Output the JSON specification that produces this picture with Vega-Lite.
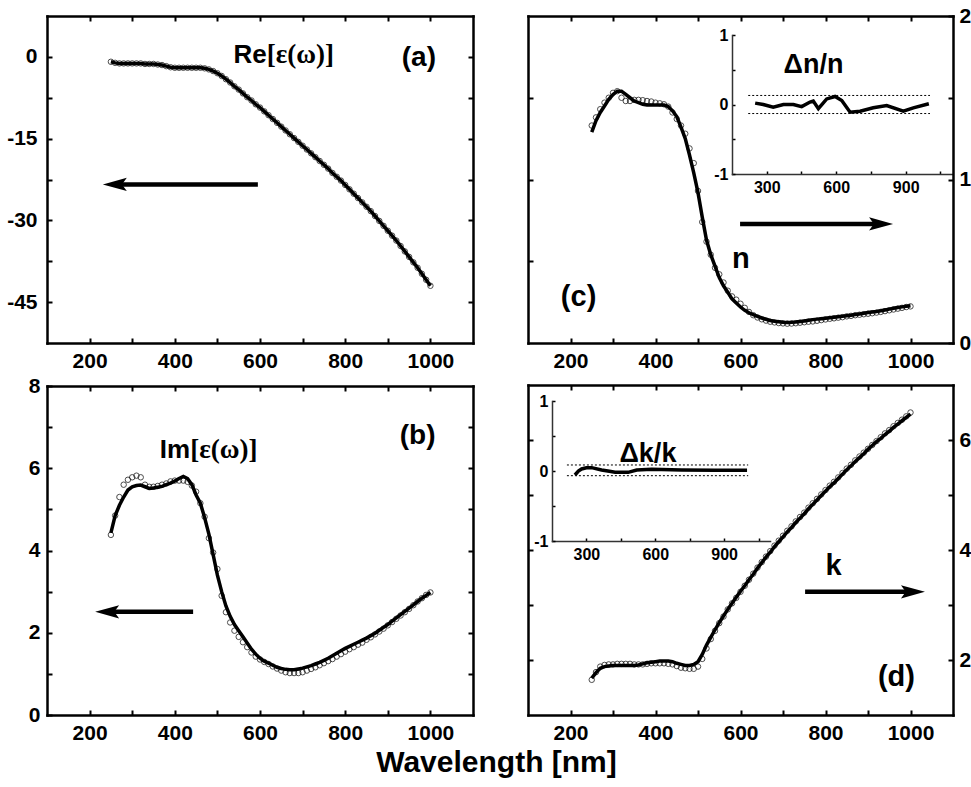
{
  "$schema": "https://vega.github.io/schema/vega-lite/v6.json",
  "width": 971,
  "height": 787,
  "autosize": "none",
  "padding": 0,
  "background": "white",
  "config": {
    "view": {"stroke": null},
    "font": "Liberation Sans",
    "axis": {
      "grid": false,
      "domainColor": "black",
      "domainWidth": 2.5,
      "domainCap": "square",
      "tickColor": "black",
      "tickWidth": 2,
      "tickSize": -5,
      "labelFont": "Liberation Sans",
      "labelFontWeight": "bold",
      "labelFontSize": 21,
      "labelColor": "black",
      "labelFlush": false,
      "labelOverlap": false,
      "labelPadding": 12
    }
  },
  "datasets": {
    "main": [
      {"p":"a","w":250,"m":-0.9,"f":-0.9},{"p":"a","w":260,"m":-1.1,"f":-1.1},{"p":"a","w":270,"m":-1.2,"f":-1.2},{"p":"a","w":280,"m":-1.2,"f":-1.2},{"p":"a","w":290,"m":-1.2,"f":-1.2},{"p":"a","w":300,"m":-1.2,"f":-1.2},{"p":"a","w":310,"m":-1.2,"f":-1.2},{"p":"a","w":320,"m":-1.2,"f":-1.2},{"p":"a","w":330,"m":-1.3,"f":-1.3},{"p":"a","w":340,"m":-1.3,"f":-1.3},{"p":"a","w":350,"m":-1.3,"f":-1.3},{"p":"a","w":360,"m":-1.4,"f":-1.4},{"p":"a","w":370,"m":-1.5,"f":-1.5},{"p":"a","w":380,"m":-1.7,"f":-1.7},{"p":"a","w":390,"m":-1.9,"f":-1.9},{"p":"a","w":400,"m":-2.0,"f":-2.0},{"p":"a","w":410,"m":-2.0,"f":-2.0},{"p":"a","w":420,"m":-2.0,"f":-2.0},{"p":"a","w":430,"m":-2.0,"f":-2.0},{"p":"a","w":440,"m":-2.0,"f":-2.0},{"p":"a","w":450,"m":-2.0,"f":-2.0},{"p":"a","w":460,"m":-2.0,"f":-2.0},{"p":"a","w":470,"m":-2.1,"f":-2.1},{"p":"a","w":480,"m":-2.3,"f":-2.3},{"p":"a","w":490,"m":-2.6,"f":-2.6},{"p":"a","w":500,"m":-3.0,"f":-3.0},{"p":"a","w":510,"m":-3.5,"f":-3.5},{"p":"a","w":520,"m":-4.1,"f":-4.1},{"p":"a","w":530,"m":-4.7,"f":-4.7},{"p":"a","w":540,"m":-5.4,"f":-5.4},{"p":"a","w":550,"m":-6.0,"f":-6.0},{"p":"a","w":560,"m":-6.7,"f":-6.7},{"p":"a","w":570,"m":-7.4,"f":-7.4},{"p":"a","w":580,"m":-8.0,"f":-8.0},{"p":"a","w":590,"m":-8.7,"f":-8.7},{"p":"a","w":600,"m":-9.3,"f":-9.3},{"p":"a","w":610,"m":-10.0,"f":-10.0},{"p":"a","w":620,"m":-10.7,"f":-10.7},{"p":"a","w":630,"m":-11.4,"f":-11.4},{"p":"a","w":640,"m":-12.1,"f":-12.1},{"p":"a","w":650,"m":-12.8,"f":-12.8},{"p":"a","w":660,"m":-13.5,"f":-13.5},{"p":"a","w":670,"m":-14.2,"f":-14.2},{"p":"a","w":680,"m":-14.9,"f":-14.9},{"p":"a","w":690,"m":-15.6,"f":-15.6},{"p":"a","w":700,"m":-16.3,"f":-16.3},{"p":"a","w":710,"m":-17.0,"f":-17.0},{"p":"a","w":720,"m":-17.7,"f":-17.7},{"p":"a","w":730,"m":-18.4,"f":-18.4},{"p":"a","w":740,"m":-19.1,"f":-19.1},{"p":"a","w":750,"m":-19.8,"f":-19.8},{"p":"a","w":760,"m":-20.5,"f":-20.5},{"p":"a","w":770,"m":-21.3,"f":-21.3},{"p":"a","w":780,"m":-22.0,"f":-22.0},{"p":"a","w":790,"m":-22.7,"f":-22.7},{"p":"a","w":800,"m":-23.5,"f":-23.5},{"p":"a","w":810,"m":-24.3,"f":-24.3},{"p":"a","w":820,"m":-25.1,"f":-25.1},{"p":"a","w":830,"m":-25.9,"f":-25.9},{"p":"a","w":840,"m":-26.7,"f":-26.7},{"p":"a","w":850,"m":-27.5,"f":-27.5},{"p":"a","w":860,"m":-28.3,"f":-28.3},{"p":"a","w":870,"m":-29.2,"f":-29.2},{"p":"a","w":880,"m":-30.1,"f":-30.1},{"p":"a","w":890,"m":-31.0,"f":-31.0},{"p":"a","w":900,"m":-31.9,"f":-31.9},{"p":"a","w":910,"m":-32.8,"f":-32.8},{"p":"a","w":920,"m":-33.7,"f":-33.7},{"p":"a","w":930,"m":-34.7,"f":-34.7},{"p":"a","w":940,"m":-35.7,"f":-35.7},{"p":"a","w":950,"m":-36.7,"f":-36.7},{"p":"a","w":960,"m":-37.7,"f":-37.7},{"p":"a","w":970,"m":-38.7,"f":-38.7},{"p":"a","w":980,"m":-39.8,"f":-39.8},{"p":"a","w":990,"m":-40.9,"f":-40.9},{"p":"a","w":1000,"m":-42.0,"f":-42.0},

      {"p":"b","w":250,"m":4.38,"f":4.43},{"p":"b","w":260,"m":4.85,"f":4.85},{"p":"b","w":270,"m":5.3,"f":5.1},{"p":"b","w":280,"m":5.6,"f":5.3},{"p":"b","w":290,"m":5.72,"f":5.47},{"p":"b","w":300,"m":5.78,"f":5.55},{"p":"b","w":310,"m":5.82,"f":5.58},{"p":"b","w":320,"m":5.78,"f":5.59},{"p":"b","w":330,"m":5.6,"f":5.55},{"p":"b","w":340,"m":5.55,"f":5.51},{"p":"b","w":350,"m":5.55,"f":5.52},{"p":"b","w":360,"m":5.57,"f":5.54},{"p":"b","w":370,"m":5.6,"f":5.56},{"p":"b","w":380,"m":5.63,"f":5.6},{"p":"b","w":390,"m":5.68,"f":5.64},{"p":"b","w":400,"m":5.7,"f":5.69},{"p":"b","w":410,"m":5.7,"f":5.75},{"p":"b","w":420,"m":5.7,"f":5.8},{"p":"b","w":430,"m":5.67,"f":5.75},{"p":"b","w":440,"m":5.58,"f":5.6},{"p":"b","w":450,"m":5.43,"f":5.35},{"p":"b","w":460,"m":5.15,"f":5.15},{"p":"b","w":470,"m":4.82,"f":4.8},{"p":"b","w":480,"m":4.3,"f":4.4},{"p":"b","w":490,"m":3.95,"f":3.9},{"p":"b","w":500,"m":3.55,"f":3.4},{"p":"b","w":510,"m":2.9,"f":3.0},{"p":"b","w":520,"m":2.5,"f":2.65},{"p":"b","w":530,"m":2.25,"f":2.4},{"p":"b","w":540,"m":2.05,"f":2.2},{"p":"b","w":550,"m":1.9,"f":2.05},{"p":"b","w":560,"m":1.77,"f":1.9},{"p":"b","w":570,"m":1.65,"f":1.75},{"p":"b","w":580,"m":1.52,"f":1.6},{"p":"b","w":590,"m":1.42,"f":1.48},{"p":"b","w":600,"m":1.35,"f":1.38},{"p":"b","w":610,"m":1.29,"f":1.31},{"p":"b","w":620,"m":1.24,"f":1.26},{"p":"b","w":630,"m":1.18,"f":1.21},{"p":"b","w":640,"m":1.13,"f":1.16},{"p":"b","w":650,"m":1.08,"f":1.13},{"p":"b","w":660,"m":1.04,"f":1.11},{"p":"b","w":670,"m":1.02,"f":1.1},{"p":"b","w":680,"m":1.02,"f":1.1},{"p":"b","w":690,"m":1.02,"f":1.12},{"p":"b","w":700,"m":1.04,"f":1.14},{"p":"b","w":710,"m":1.08,"f":1.17},{"p":"b","w":720,"m":1.12,"f":1.2},{"p":"b","w":730,"m":1.16,"f":1.24},{"p":"b","w":740,"m":1.21,"f":1.28},{"p":"b","w":750,"m":1.26,"f":1.33},{"p":"b","w":760,"m":1.31,"f":1.38},{"p":"b","w":770,"m":1.36,"f":1.44},{"p":"b","w":780,"m":1.42,"f":1.5},{"p":"b","w":790,"m":1.48,"f":1.56},{"p":"b","w":800,"m":1.54,"f":1.62},{"p":"b","w":810,"m":1.6,"f":1.67},{"p":"b","w":820,"m":1.65,"f":1.72},{"p":"b","w":830,"m":1.71,"f":1.77},{"p":"b","w":840,"m":1.76,"f":1.82},{"p":"b","w":850,"m":1.83,"f":1.87},{"p":"b","w":860,"m":1.89,"f":1.93},{"p":"b","w":870,"m":1.96,"f":1.99},{"p":"b","w":880,"m":2.03,"f":2.06},{"p":"b","w":890,"m":2.1,"f":2.13},{"p":"b","w":900,"m":2.18,"f":2.2},{"p":"b","w":910,"m":2.26,"f":2.28},{"p":"b","w":920,"m":2.34,"f":2.36},{"p":"b","w":930,"m":2.42,"f":2.44},{"p":"b","w":940,"m":2.5,"f":2.52},{"p":"b","w":950,"m":2.58,"f":2.6},{"p":"b","w":960,"m":2.67,"f":2.68},{"p":"b","w":970,"m":2.76,"f":2.76},{"p":"b","w":980,"m":2.84,"f":2.84},{"p":"b","w":990,"m":2.92,"f":2.91},{"p":"b","w":1000,"m":2.98,"f":2.98},

      {"p":"c","w":250,"m":1.33,"f":1.29},{"p":"c","w":260,"m":1.38,"f":1.36},{"p":"c","w":270,"m":1.43,"f":1.41},{"p":"c","w":280,"m":1.47,"f":1.45},{"p":"c","w":290,"m":1.5,"f":1.49},{"p":"c","w":300,"m":1.53,"f":1.52},{"p":"c","w":310,"m":1.54,"f":1.54},{"p":"c","w":320,"m":1.5,"f":1.54},{"p":"c","w":330,"m":1.48,"f":1.52},{"p":"c","w":340,"m":1.48,"f":1.5},{"p":"c","w":350,"m":1.487,"f":1.48},{"p":"c","w":360,"m":1.487,"f":1.47},{"p":"c","w":370,"m":1.485,"f":1.46},{"p":"c","w":380,"m":1.48,"f":1.456},{"p":"c","w":390,"m":1.477,"f":1.456},{"p":"c","w":400,"m":1.47,"f":1.456},{"p":"c","w":410,"m":1.466,"f":1.456},{"p":"c","w":420,"m":1.46,"f":1.455},{"p":"c","w":430,"m":1.446,"f":1.446},{"p":"c","w":440,"m":1.41,"f":1.42},{"p":"c","w":450,"m":1.37,"f":1.385},{"p":"c","w":460,"m":1.33,"f":1.32},{"p":"c","w":470,"m":1.28,"f":1.25},{"p":"c","w":480,"m":1.19,"f":1.15},{"p":"c","w":490,"m":1.1,"f":1.04},{"p":"c","w":500,"m":0.93,"f":0.92},{"p":"c","w":510,"m":0.74,"f":0.77},{"p":"c","w":520,"m":0.62,"f":0.63},{"p":"c","w":530,"m":0.54,"f":0.54},{"p":"c","w":540,"m":0.46,"f":0.47},{"p":"c","w":550,"m":0.42,"f":0.4},{"p":"c","w":560,"m":0.37,"f":0.35},{"p":"c","w":570,"m":0.32,"f":0.31},{"p":"c","w":580,"m":0.285,"f":0.27},{"p":"c","w":590,"m":0.265,"f":0.245},{"p":"c","w":600,"m":0.24,"f":0.22},{"p":"c","w":610,"m":0.215,"f":0.2},{"p":"c","w":620,"m":0.19,"f":0.185},{"p":"c","w":630,"m":0.17,"f":0.173},{"p":"c","w":640,"m":0.156,"f":0.163},{"p":"c","w":650,"m":0.145,"f":0.153},{"p":"c","w":660,"m":0.137,"f":0.145},{"p":"c","w":670,"m":0.13,"f":0.138},{"p":"c","w":680,"m":0.126,"f":0.133},{"p":"c","w":690,"m":0.122,"f":0.13},{"p":"c","w":700,"m":0.12,"f":0.127},{"p":"c","w":710,"m":0.118,"f":0.126},{"p":"c","w":720,"m":0.119,"f":0.127},{"p":"c","w":730,"m":0.121,"f":0.129},{"p":"c","w":740,"m":0.124,"f":0.132},{"p":"c","w":750,"m":0.127,"f":0.135},{"p":"c","w":760,"m":0.13,"f":0.139},{"p":"c","w":770,"m":0.132,"f":0.143},{"p":"c","w":780,"m":0.136,"f":0.146},{"p":"c","w":790,"m":0.14,"f":0.149},{"p":"c","w":800,"m":0.144,"f":0.152},{"p":"c","w":810,"m":0.148,"f":0.155},{"p":"c","w":820,"m":0.151,"f":0.158},{"p":"c","w":830,"m":0.155,"f":0.161},{"p":"c","w":840,"m":0.158,"f":0.164},{"p":"c","w":850,"m":0.163,"f":0.167},{"p":"c","w":860,"m":0.166,"f":0.17},{"p":"c","w":870,"m":0.17,"f":0.174},{"p":"c","w":880,"m":0.173,"f":0.178},{"p":"c","w":890,"m":0.176,"f":0.182},{"p":"c","w":900,"m":0.179,"f":0.186},{"p":"c","w":910,"m":0.182,"f":0.19},{"p":"c","w":920,"m":0.186,"f":0.193},{"p":"c","w":930,"m":0.19,"f":0.197},{"p":"c","w":940,"m":0.195,"f":0.202},{"p":"c","w":950,"m":0.2,"f":0.207},{"p":"c","w":960,"m":0.205,"f":0.212},{"p":"c","w":970,"m":0.21,"f":0.217},{"p":"c","w":980,"m":0.215,"f":0.221},{"p":"c","w":990,"m":0.22,"f":0.225},{"p":"c","w":1000,"m":0.224,"f":0.228},

      {"p":"d","w":250,"m":1.64,"f":1.67},{"p":"d","w":260,"m":1.78,"f":1.77},{"p":"d","w":270,"m":1.88,"f":1.85},{"p":"d","w":280,"m":1.91,"f":1.88},{"p":"d","w":290,"m":1.92,"f":1.89},{"p":"d","w":300,"m":1.92,"f":1.9},{"p":"d","w":310,"m":1.93,"f":1.9},{"p":"d","w":320,"m":1.93,"f":1.9},{"p":"d","w":330,"m":1.93,"f":1.9},{"p":"d","w":340,"m":1.93,"f":1.9},{"p":"d","w":350,"m":1.92,"f":1.9},{"p":"d","w":360,"m":1.92,"f":1.91},{"p":"d","w":370,"m":1.92,"f":1.93},{"p":"d","w":380,"m":1.93,"f":1.95},{"p":"d","w":390,"m":1.94,"f":1.96},{"p":"d","w":400,"m":1.94,"f":1.97},{"p":"d","w":410,"m":1.94,"f":1.98},{"p":"d","w":420,"m":1.94,"f":1.98},{"p":"d","w":430,"m":1.93,"f":1.98},{"p":"d","w":440,"m":1.92,"f":1.97},{"p":"d","w":450,"m":1.89,"f":1.94},{"p":"d","w":460,"m":1.86,"f":1.92},{"p":"d","w":470,"m":1.85,"f":1.9},{"p":"d","w":480,"m":1.84,"f":1.9},{"p":"d","w":490,"m":1.84,"f":1.92},{"p":"d","w":500,"m":1.88,"f":1.97},{"p":"d","w":510,"m":2.02,"f":2.1},{"p":"d","w":520,"m":2.21,"f":2.27},{"p":"d","w":530,"m":2.38,"f":2.41},{"p":"d","w":540,"m":2.53,"f":2.55},{"p":"d","w":550,"m":2.67,"f":2.68},{"p":"d","w":560,"m":2.79,"f":2.8},{"p":"d","w":570,"m":2.92,"f":2.92},{"p":"d","w":580,"m":3.03,"f":3.03},{"p":"d","w":590,"m":3.13,"f":3.14},{"p":"d","w":600,"m":3.24,"f":3.25},{"p":"d","w":610,"m":3.35,"f":3.35},{"p":"d","w":620,"m":3.46,"f":3.46},{"p":"d","w":630,"m":3.57,"f":3.56},{"p":"d","w":640,"m":3.68,"f":3.67},{"p":"d","w":650,"m":3.78,"f":3.77},{"p":"d","w":660,"m":3.88,"f":3.87},{"p":"d","w":670,"m":3.98,"f":3.96},{"p":"d","w":680,"m":4.08,"f":4.06},{"p":"d","w":690,"m":4.17,"f":4.15},{"p":"d","w":700,"m":4.26,"f":4.24},{"p":"d","w":710,"m":4.35,"f":4.33},{"p":"d","w":720,"m":4.43,"f":4.41},{"p":"d","w":730,"m":4.52,"f":4.5},{"p":"d","w":740,"m":4.6,"f":4.58},{"p":"d","w":750,"m":4.68,"f":4.66},{"p":"d","w":760,"m":4.77,"f":4.75},{"p":"d","w":770,"m":4.85,"f":4.83},{"p":"d","w":780,"m":4.93,"f":4.91},{"p":"d","w":790,"m":5.01,"f":4.99},{"p":"d","w":800,"m":5.09,"f":5.07},{"p":"d","w":810,"m":5.17,"f":5.15},{"p":"d","w":820,"m":5.24,"f":5.22},{"p":"d","w":830,"m":5.32,"f":5.3},{"p":"d","w":840,"m":5.4,"f":5.38},{"p":"d","w":850,"m":5.48,"f":5.46},{"p":"d","w":860,"m":5.55,"f":5.53},{"p":"d","w":870,"m":5.63,"f":5.61},{"p":"d","w":880,"m":5.7,"f":5.68},{"p":"d","w":890,"m":5.77,"f":5.75},{"p":"d","w":900,"m":5.84,"f":5.83},{"p":"d","w":910,"m":5.91,"f":5.9},{"p":"d","w":920,"m":5.98,"f":5.97},{"p":"d","w":930,"m":6.05,"f":6.03},{"p":"d","w":940,"m":6.12,"f":6.1},{"p":"d","w":950,"m":6.18,"f":6.16},{"p":"d","w":960,"m":6.25,"f":6.23},{"p":"d","w":970,"m":6.31,"f":6.29},{"p":"d","w":980,"m":6.37,"f":6.35},{"p":"d","w":990,"m":6.43,"f":6.41},{"p":"d","w":1000,"m":6.5,"f":6.47}
    ],
    "dn": [
      {"w":250,"v":0.02},{"w":285,"v":0.0},{"w":328,"v":-0.04},{"w":372,"v":0.0},{"w":415,"v":0.0},{"w":451,"v":-0.03},{"w":487,"v":0.035},{"w":501,"v":0.05},{"w":523,"v":-0.06},{"w":559,"v":0.08},{"w":595,"v":0.115},{"w":624,"v":0.058},{"w":660,"v":-0.11},{"w":703,"v":-0.096},{"w":760,"v":-0.048},{"w":818,"v":-0.014},{"w":890,"v":-0.096},{"w":933,"v":-0.048},{"w":1000,"v":0.01}
    ],
    "dk": [
      {"w":250,"v":-0.057},{"w":265,"v":0.0},{"w":279,"v":0.029},{"w":300,"v":0.045},{"w":323,"v":0.048},{"w":366,"v":0.014},{"w":400,"v":-0.005},{"w":425,"v":-0.019},{"w":482,"v":-0.019},{"w":519,"v":0.014},{"w":584,"v":0.024},{"w":715,"v":0.014},{"w":860,"v":0.01},{"w":1000,"v":0.01}
    ],
    "lim": [
      {"p":"dn","x1":220,"x2":1005,"y":0.13},{"p":"dn","x1":220,"x2":1005,"y":-0.13},
      {"p":"dk","x1":215,"x2":1005,"y":0.086},{"p":"dk","x1":215,"x2":1005,"y":-0.067}
    ],
    "arrows": [
      {"p":"a","tail":595,"shaft":271,"tip":231,"y":-23.4},
      {"p":"b","tail":443,"shaft":253,"tip":213,"y":2.51},
      {"p":"c","tail":599,"shaft":919,"tip":959,"y":0.728},
      {"p":"d","tail":752,"shaft":994,"tip":1034,"y":3.24}
    ],
    "ann": [
      {"p":"a","k":"r","t":"Re","x":616,"y":-1.1},
      {"p":"a","k":"e","t":"[ε(ω)]","x":616,"y":-1.1},
      {"p":"a","k":"c","t":"(a)","x":973,"y":-1.65},
      {"p":"b","k":"r","t":"Im","x":436,"y":6.25},
      {"p":"b","k":"e","t":"[ε(ω)]","x":436,"y":6.25},
      {"p":"b","k":"c","t":"(b)","x":970,"y":6.59},
      {"p":"c","k":"c","t":"(c)","x":219,"y":0.226},
      {"p":"c","k":"c","t":"n","x":601,"y":0.459},
      {"p":"d","k":"c","t":"(d)","x":967,"y":1.527},
      {"p":"d","k":"c","t":"k","x":819,"y":3.545},
      {"p":"dn","k":"c","t":"Δn/n","x":502,"y":0.46},
      {"p":"dk","k":"c","t":"Δk/k","x":568,"y":0.129}
    ]
  },
  "layer": [
    {
      "resolve": {"scale": {"x": "shared", "y": "shared"}, "axis": {"x": "independent", "y": "independent"}},
      "layer": [
        {
          "data": {"name": "main"},
          "transform": [{"filter": "datum.p == 'a'"}],
          "mark": {"type": "point", "shape": "circle", "filled": false, "size": 30, "color": "black", "strokeWidth": 1},
          "encoding": {
            "x": {"field": "w", "type": "quantitative", "scale": {"domain": [100, 1100], "range": [47, 473], "nice": false, "zero": false},
                  "axis": {"orient": "bottom", "offset": -444, "title": null, "values": [200,300,400,500,600,700,800,900,1000], "labelExpr": "datum.value % 200 == 0 ? '' + datum.value : ''", "labelPadding": 12}},
            "y": {"field": "m", "type": "quantitative", "scale": {"domain": [-52.5, 7.5], "range": [343, 16], "nice": false, "zero": false},
                  "axis": {"orient": "left", "offset": -47, "title": null, "values": [0,-7.5,-15,-22.5,-30,-37.5,-45], "labelExpr": "datum.value % 15 == 0 ? '' + datum.value : ''", "labelPadding": 15}}
          }
        },
        {
          "data": {"name": "main"},
          "transform": [{"filter": "datum.p == 'a'"}],
          "mark": {"type": "line", "color": "black", "strokeWidth": 3.5},
          "encoding": {
            "x": {"field": "w", "type": "quantitative", "scale": {"domain": [100, 1100], "range": [47, 473], "nice": false, "zero": false},
                  "axis": {"orient": "top", "offset": -16, "title": null, "labels": false, "values": [200,300,400,500,600,700,800,900,1000]}},
            "y": {"field": "f", "type": "quantitative", "scale": {"domain": [-52.5, 7.5], "range": [343, 16], "nice": false, "zero": false},
                  "axis": {"orient": "right", "offset": -498, "title": null, "labels": false, "values": [0,-7.5,-15,-22.5,-30,-37.5,-45]}}
          }
        },
        {
          "data": {"name": "arrows"},
          "transform": [{"filter": "datum.p == 'a'"}],
          "mark": {"type": "rule", "color": "black", "strokeWidth": 4.5},
          "encoding": {
            "x": {"field": "tail", "type": "quantitative", "axis": null},
            "x2": {"field": "shaft"},
            "y": {"field": "y", "type": "quantitative", "axis": null}
          }
        },
        {
          "data": {"name": "arrows"},
          "transform": [{"filter": "datum.p == 'a'"}],
          "mark": {"type": "point", "shape": "M0,0L2,-0.55L1.6,0L2,0.55Z", "filled": true, "size": 576, "color": "black", "opacity": 1},
          "encoding": {
            "x": {"field": "tip", "type": "quantitative", "axis": null},
            "y": {"field": "y", "type": "quantitative", "axis": null}
          }
        },
        {
          "data": {"name": "ann"},
          "transform": [{"filter": "datum.p == 'a' && datum.k == 'r'"}],
          "mark": {"type": "text", "align": "right", "baseline": "alphabetic", "fontSize": 26, "fontWeight": "bold", "font": "Liberation Sans", "color": "black"},
          "encoding": {"x": {"field": "x", "type": "quantitative", "axis": null}, "y": {"field": "y", "type": "quantitative", "axis": null}, "text": {"field": "t"}}
        },
        {
          "data": {"name": "ann"},
          "transform": [{"filter": "datum.p == 'a' && datum.k == 'e'"}],
          "mark": {"type": "text", "align": "left", "baseline": "alphabetic", "fontSize": 27, "fontWeight": "bold", "font": "Liberation Serif", "color": "black"},
          "encoding": {"x": {"field": "x", "type": "quantitative", "axis": null}, "y": {"field": "y", "type": "quantitative", "axis": null}, "text": {"field": "t"}}
        },
        {
          "data": {"name": "ann"},
          "transform": [{"filter": "datum.p == 'a' && datum.k == 'c'"}],
          "mark": {"type": "text", "align": "center", "baseline": "alphabetic", "fontSize": 28, "fontWeight": "bold", "font": "Liberation Sans", "color": "black"},
          "encoding": {"x": {"field": "x", "type": "quantitative", "axis": null}, "y": {"field": "y", "type": "quantitative", "axis": null}, "text": {"field": "t"}}
        }
      ]
    },
    {
      "resolve": {"scale": {"x": "shared", "y": "shared"}, "axis": {"x": "independent", "y": "independent"}},
      "layer": [
        {
          "data": {"name": "main"},
          "transform": [{"filter": "datum.p == 'b'"}],
          "mark": {"type": "point", "shape": "circle", "filled": false, "size": 30, "color": "black", "strokeWidth": 1},
          "encoding": {
            "x": {"field": "w", "type": "quantitative", "scale": {"domain": [100, 1100], "range": [47, 473], "nice": false, "zero": false},
                  "axis": {"orient": "bottom", "offset": -72, "values": [200,300,400,500,600,700,800,900,1000], "labelExpr": "datum.value % 200 == 0 ? '' + datum.value : ''", "labelPadding": 12,
                           "title": "Wavelength [nm]", "titleX": 496, "titleY": 56, "titleAlign": "center", "titleBaseline": "alphabetic", "titleAngle": 0, "titleFont": "Liberation Sans", "titleFontSize": 30, "titleFontWeight": "bold", "titleColor": "black"}},
            "y": {"field": "m", "type": "quantitative", "scale": {"domain": [0, 8], "range": [715, 386], "nice": false, "zero": false},
                  "axis": {"orient": "left", "offset": -47, "title": null, "values": [0,1,2,3,4,5,6,7,8], "labelExpr": "datum.value % 2 == 0 ? '' + datum.value : ''", "labelPadding": 12}}
          }
        },
        {
          "data": {"name": "main"},
          "transform": [{"filter": "datum.p == 'b'"}],
          "mark": {"type": "line", "color": "black", "strokeWidth": 3.5},
          "encoding": {
            "x": {"field": "w", "type": "quantitative", "scale": {"domain": [100, 1100], "range": [47, 473], "nice": false, "zero": false},
                  "axis": {"orient": "top", "offset": -386, "title": null, "labels": false, "values": [200,300,400,500,600,700,800,900,1000]}},
            "y": {"field": "f", "type": "quantitative", "scale": {"domain": [0, 8], "range": [715, 386], "nice": false, "zero": false},
                  "axis": {"orient": "right", "offset": -498, "title": null, "labels": false, "values": [1,2,3,4,5,6,7]}}
          }
        },
        {
          "data": {"name": "arrows"},
          "transform": [{"filter": "datum.p == 'b'"}],
          "mark": {"type": "rule", "color": "black", "strokeWidth": 4.5},
          "encoding": {
            "x": {"field": "tail", "type": "quantitative", "axis": null},
            "x2": {"field": "shaft"},
            "y": {"field": "y", "type": "quantitative", "axis": null}
          }
        },
        {
          "data": {"name": "arrows"},
          "transform": [{"filter": "datum.p == 'b'"}],
          "mark": {"type": "point", "shape": "M0,0L2,-0.55L1.6,0L2,0.55Z", "filled": true, "size": 576, "color": "black", "opacity": 1},
          "encoding": {
            "x": {"field": "tip", "type": "quantitative", "axis": null},
            "y": {"field": "y", "type": "quantitative", "axis": null}
          }
        },
        {
          "data": {"name": "ann"},
          "transform": [{"filter": "datum.p == 'b' && datum.k == 'r'"}],
          "mark": {"type": "text", "align": "right", "baseline": "alphabetic", "fontSize": 26, "fontWeight": "bold", "font": "Liberation Sans", "color": "black"},
          "encoding": {"x": {"field": "x", "type": "quantitative", "axis": null}, "y": {"field": "y", "type": "quantitative", "axis": null}, "text": {"field": "t"}}
        },
        {
          "data": {"name": "ann"},
          "transform": [{"filter": "datum.p == 'b' && datum.k == 'e'"}],
          "mark": {"type": "text", "align": "left", "baseline": "alphabetic", "fontSize": 27, "fontWeight": "bold", "font": "Liberation Serif", "color": "black"},
          "encoding": {"x": {"field": "x", "type": "quantitative", "axis": null}, "y": {"field": "y", "type": "quantitative", "axis": null}, "text": {"field": "t"}}
        },
        {
          "data": {"name": "ann"},
          "transform": [{"filter": "datum.p == 'b' && datum.k == 'c'"}],
          "mark": {"type": "text", "align": "center", "baseline": "alphabetic", "fontSize": 28, "fontWeight": "bold", "font": "Liberation Sans", "color": "black"},
          "encoding": {"x": {"field": "x", "type": "quantitative", "axis": null}, "y": {"field": "y", "type": "quantitative", "axis": null}, "text": {"field": "t"}}
        }
      ]
    },
    {
      "resolve": {"scale": {"x": "shared", "y": "shared"}, "axis": {"x": "independent", "y": "independent"}},
      "layer": [
        {
          "data": {"name": "main"},
          "transform": [{"filter": "datum.p == 'c'"}],
          "mark": {"type": "point", "shape": "circle", "filled": false, "size": 30, "color": "black", "strokeWidth": 1},
          "encoding": {
            "x": {"field": "w", "type": "quantitative", "scale": {"domain": [100, 1100], "range": [528, 953], "nice": false, "zero": false},
                  "axis": {"orient": "bottom", "offset": -444, "title": null, "values": [200,300,400,500,600,700,800,900,1000], "labelExpr": "datum.value % 200 == 0 ? '' + datum.value : ''", "labelPadding": 12}},
            "y": {"field": "m", "type": "quantitative", "scale": {"domain": [0, 2], "range": [343, 16], "nice": false, "zero": false},
                  "axis": {"orient": "right", "offset": -18, "title": null, "values": [0,0.5,1,1.5,2], "labelExpr": "datum.value % 1 == 0 ? '' + datum.value : ''", "labelPadding": 11}}
          }
        },
        {
          "data": {"name": "main"},
          "transform": [{"filter": "datum.p == 'c'"}],
          "mark": {"type": "line", "color": "black", "strokeWidth": 3.5},
          "encoding": {
            "x": {"field": "w", "type": "quantitative", "scale": {"domain": [100, 1100], "range": [528, 953], "nice": false, "zero": false},
                  "axis": {"orient": "top", "offset": -16, "title": null, "labels": false, "values": [200,300,400,500,600,700,800,900,1000]}},
            "y": {"field": "f", "type": "quantitative", "scale": {"domain": [0, 2], "range": [343, 16], "nice": false, "zero": false},
                  "axis": {"orient": "left", "offset": -528, "title": null, "labels": false, "values": [0.5,1,1.5]}}
          }
        },
        {
          "data": {"name": "arrows"},
          "transform": [{"filter": "datum.p == 'c'"}],
          "mark": {"type": "rule", "color": "black", "strokeWidth": 4.5},
          "encoding": {
            "x": {"field": "tail", "type": "quantitative", "axis": null},
            "x2": {"field": "shaft"},
            "y": {"field": "y", "type": "quantitative", "axis": null}
          }
        },
        {
          "data": {"name": "arrows"},
          "transform": [{"filter": "datum.p == 'c'"}],
          "mark": {"type": "point", "shape": "M0,0L-2,-0.55L-1.6,0L-2,0.55Z", "filled": true, "size": 576, "color": "black", "opacity": 1},
          "encoding": {
            "x": {"field": "tip", "type": "quantitative", "axis": null},
            "y": {"field": "y", "type": "quantitative", "axis": null}
          }
        },
        {
          "data": {"name": "ann"},
          "transform": [{"filter": "datum.p == 'c'"}],
          "mark": {"type": "text", "align": "center", "baseline": "alphabetic", "fontSize": 29, "fontWeight": "bold", "font": "Liberation Sans", "color": "black"},
          "encoding": {"x": {"field": "x", "type": "quantitative", "axis": null}, "y": {"field": "y", "type": "quantitative", "axis": null}, "text": {"field": "t"}}
        }
      ]
    },
    {
      "resolve": {"scale": {"x": "shared", "y": "shared"}, "axis": {"x": "independent", "y": "independent"}},
      "layer": [
        {
          "data": {"name": "main"},
          "transform": [{"filter": "datum.p == 'd'"}],
          "mark": {"type": "point", "shape": "circle", "filled": false, "size": 30, "color": "black", "strokeWidth": 1},
          "encoding": {
            "x": {"field": "w", "type": "quantitative", "scale": {"domain": [100, 1100], "range": [528, 953], "nice": false, "zero": false},
                  "axis": {"orient": "bottom", "offset": -72, "title": null, "values": [200,300,400,500,600,700,800,900,1000], "labelExpr": "datum.value % 200 == 0 ? '' + datum.value : ''", "labelPadding": 12}},
            "y": {"field": "m", "type": "quantitative", "scale": {"domain": [1, 7], "range": [715, 385], "nice": false, "zero": false},
                  "axis": {"orient": "right", "offset": -18, "title": null, "values": [2,3,4,5,6], "labelExpr": "datum.value % 2 == 0 ? '' + datum.value : ''", "labelPadding": 11}}
          }
        },
        {
          "data": {"name": "main"},
          "transform": [{"filter": "datum.p == 'd'"}],
          "mark": {"type": "line", "color": "black", "strokeWidth": 3.5},
          "encoding": {
            "x": {"field": "w", "type": "quantitative", "scale": {"domain": [100, 1100], "range": [528, 953], "nice": false, "zero": false},
                  "axis": {"orient": "top", "offset": -385, "title": null, "labels": false, "values": [200,300,400,500,600,700,800,900,1000]}},
            "y": {"field": "f", "type": "quantitative", "scale": {"domain": [1, 7], "range": [715, 385], "nice": false, "zero": false},
                  "axis": {"orient": "left", "offset": -528, "title": null, "labels": false, "values": [2,3,4,5,6]}}
          }
        },
        {
          "data": {"name": "arrows"},
          "transform": [{"filter": "datum.p == 'd'"}],
          "mark": {"type": "rule", "color": "black", "strokeWidth": 4.5},
          "encoding": {
            "x": {"field": "tail", "type": "quantitative", "axis": null},
            "x2": {"field": "shaft"},
            "y": {"field": "y", "type": "quantitative", "axis": null}
          }
        },
        {
          "data": {"name": "arrows"},
          "transform": [{"filter": "datum.p == 'd'"}],
          "mark": {"type": "point", "shape": "M0,0L-2,-0.55L-1.6,0L-2,0.55Z", "filled": true, "size": 576, "color": "black", "opacity": 1},
          "encoding": {
            "x": {"field": "tip", "type": "quantitative", "axis": null},
            "y": {"field": "y", "type": "quantitative", "axis": null}
          }
        },
        {
          "data": {"name": "ann"},
          "transform": [{"filter": "datum.p == 'd'"}],
          "mark": {"type": "text", "align": "center", "baseline": "alphabetic", "fontSize": 29, "fontWeight": "bold", "font": "Liberation Sans", "color": "black"},
          "encoding": {"x": {"field": "x", "type": "quantitative", "axis": null}, "y": {"field": "y", "type": "quantitative", "axis": null}, "text": {"field": "t"}}
        }
      ]
    },
    {
      "resolve": {"scale": {"x": "shared", "y": "shared"}, "axis": {"x": "independent", "y": "independent"}},
      "layer": [
        {
          "data": {"name": "lim"},
          "transform": [{"filter": "datum.p == 'dn'"}],
          "mark": {"type": "rule", "color": "black", "strokeWidth": 1, "strokeDash": [2, 2]},
          "encoding": {
            "x": {"field": "x1", "type": "quantitative", "scale": {"domain": [150, 1100], "range": [732, 952], "nice": false, "zero": false}, "axis": null},
            "x2": {"field": "x2"},
            "y": {"field": "y", "type": "quantitative", "scale": {"domain": [-1, 1], "range": [174, 35], "nice": false, "zero": false}, "axis": null}
          }
        },
        {
          "data": {"name": "dn"},
          "mark": {"type": "line", "color": "black", "strokeWidth": 3.5},
          "encoding": {
            "x": {"field": "w", "type": "quantitative", "scale": {"domain": [150, 1100], "range": [732, 952], "nice": false, "zero": false},
                  "axis": {"orient": "bottom", "offset": -613, "title": null, "values": [300,450,600,750,900,1050], "labelExpr": "datum.value % 300 == 0 ? '' + datum.value : ''", "domainWidth": 1.5, "domainColor": "#333", "tickSize": -3, "tickWidth": 1.5, "labelFontSize": 16, "labelPadding": 8}},
            "y": {"field": "v", "type": "quantitative", "scale": {"domain": [-1, 1], "range": [174, 35], "nice": false, "zero": false},
                  "axis": {"orient": "left", "offset": -732, "title": null, "values": [-1,-0.5,0,0.5,1], "labelExpr": "datum.value % 1 == 0 ? '' + datum.value : ''", "domainWidth": 1.5, "domainColor": "#333", "tickSize": -3, "tickWidth": 1.5, "labelFontSize": 16, "labelPadding": 7}}
          }
        },
        {
          "data": {"name": "ann"},
          "transform": [{"filter": "datum.p == 'dn'"}],
          "mark": {"type": "text", "align": "center", "baseline": "alphabetic", "fontSize": 27, "fontWeight": "bold", "font": "Liberation Sans", "color": "black"},
          "encoding": {"x": {"field": "x", "type": "quantitative", "axis": null}, "y": {"field": "y", "type": "quantitative", "axis": null}, "text": {"field": "t"}}
        }
      ]
    },
    {
      "resolve": {"scale": {"x": "shared", "y": "shared"}, "axis": {"x": "independent", "y": "independent"}},
      "layer": [
        {
          "data": {"name": "lim"},
          "transform": [{"filter": "datum.p == 'dk'"}],
          "mark": {"type": "rule", "color": "black", "strokeWidth": 1, "strokeDash": [2, 2]},
          "encoding": {
            "x": {"field": "x1", "type": "quantitative", "scale": {"domain": [150, 1100], "range": [552, 770], "nice": false, "zero": false}, "axis": null},
            "x2": {"field": "x2"},
            "y": {"field": "y", "type": "quantitative", "scale": {"domain": [-1, 1], "range": [541, 401], "nice": false, "zero": false}, "axis": null}
          }
        },
        {
          "data": {"name": "dk"},
          "mark": {"type": "line", "color": "black", "strokeWidth": 3.5},
          "encoding": {
            "x": {"field": "w", "type": "quantitative", "scale": {"domain": [150, 1100], "range": [552, 770], "nice": false, "zero": false},
                  "axis": {"orient": "bottom", "offset": -246, "title": null, "values": [300,450,600,750,900,1050], "labelExpr": "datum.value % 300 == 0 ? '' + datum.value : ''", "domainWidth": 1.5, "domainColor": "#333", "tickSize": -3, "tickWidth": 1.5, "labelFontSize": 16, "labelPadding": 8}},
            "y": {"field": "v", "type": "quantitative", "scale": {"domain": [-1, 1], "range": [541, 401], "nice": false, "zero": false},
                  "axis": {"orient": "left", "offset": -552, "title": null, "values": [-1,-0.5,0,0.5,1], "labelExpr": "datum.value % 1 == 0 ? '' + datum.value : ''", "domainWidth": 1.5, "domainColor": "#333", "tickSize": -3, "tickWidth": 1.5, "labelFontSize": 16, "labelPadding": 7}}
          }
        },
        {
          "data": {"name": "ann"},
          "transform": [{"filter": "datum.p == 'dk'"}],
          "mark": {"type": "text", "align": "center", "baseline": "alphabetic", "fontSize": 27, "fontWeight": "bold", "font": "Liberation Sans", "color": "black"},
          "encoding": {"x": {"field": "x", "type": "quantitative", "axis": null}, "y": {"field": "y", "type": "quantitative", "axis": null}, "text": {"field": "t"}}
        }
      ]
    }
  ],
  "resolve": {"scale": {"x": "independent", "y": "independent"}, "axis": {"x": "independent", "y": "independent"}}
}
